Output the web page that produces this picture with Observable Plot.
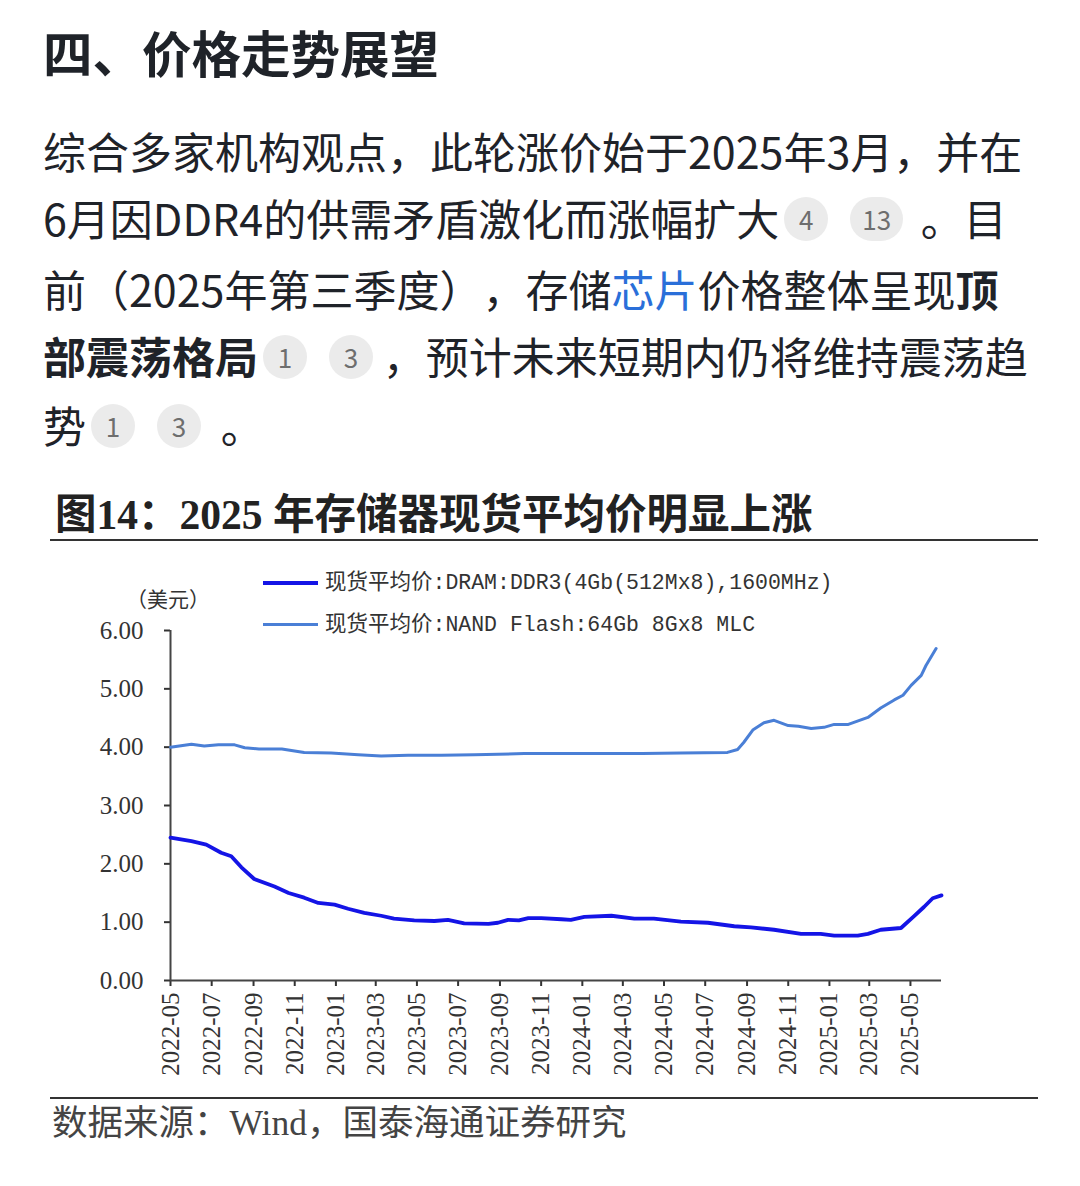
<!DOCTYPE html>
<html><head><meta charset="utf-8">
<script src="https://cdn.jsdelivr.net/npm/d3@7"></script>
<script src="https://cdn.jsdelivr.net/npm/@observablehq/plot@0.6"></script>
<style>
body{margin:0;background:#fff;width:1080px;height:1186px;position:relative;overflow:hidden;font-family:"Noto Sans CJK SC","Noto Sans",sans-serif;color:#1f2329;text-spacing-trim:space-all;}
.abs{position:absolute;white-space:nowrap;}
.h1{left:43px;top:27px;font-size:49.5px;line-height:1;font-weight:700;}
.p{left:43px;font-size:43px;line-height:70px;height:70px;}
.p b{font-weight:700;}
.link{color:#2a6fd9;}
.cite{display:inline-block;height:44px;min-width:44px;padding:0 12px;box-sizing:border-box;border-radius:22px;background:#ebebeb;color:#6e6e6e;font-size:26px;line-height:44px;text-align:center;vertical-align:middle;position:relative;top:-5px;font-weight:400;}
.c1{margin-left:5px;}
.c2{margin-left:22px;}
.ct{left:55px;top:490px;font-family:"Liberation Serif","Noto Sans CJK SC",serif;font-weight:700;font-size:41.5px;line-height:50px;color:#222;}
.rule{position:absolute;left:50px;width:988px;height:2px;background:#333;}
.leg{font-family:"Liberation Mono","Noto Sans CJK SC",monospace;font-size:21.5px;line-height:26px;color:#333;}
.unit{left:126px;top:587px;font-size:21px;line-height:26px;color:#333;font-family:"Liberation Serif","Noto Sans CJK SC",serif;}
.src{left:52px;top:1102px;font-family:"Liberation Serif","Noto Sans CJK SC",serif;font-size:35.5px;line-height:42px;color:#444;}
#chart{position:absolute;left:0;top:560px;}
</style></head><body>
<div class="abs h1">四、价格走势展望</div>
<div class="abs p" style="top:115px">综合多家机构观点，此轮涨价始于2025年3月，并在</div>
<div class="abs p" style="top:182px">6月因DDR4的供需矛盾激化而涨幅扩大<span class="cite c1">4</span><span class="cite c2" style="margin-right:8px">13</span>&nbsp;。目</div>
<div class="abs p" style="top:253px">前（2025年第三季度），存储<span class="link">芯片</span>价格整体呈现<b>顶</b></div>
<div class="abs p" style="top:320px"><b>部震荡格局</b><span class="cite c1">1</span><span class="cite c2">3</span>&nbsp;，预计未来短期内仍将维持震荡趋</div>
<div class="abs p" style="top:389px">势<span class="cite c1">1</span><span class="cite c2" style="margin-right:10px">3</span>&nbsp;。</div>

<div class="abs ct">图14：2025 年存储器现货平均价明显上涨</div>
<div class="rule" style="top:539px"></div>

<div id="chart"></div>

<div class="abs" style="left:263px;top:581px;width:55px;height:4px;background:#1414e6"></div>
<div class="abs leg" id="leg1" style="left:325px;top:570px"></div>
<div class="abs" style="left:263px;top:623px;width:55px;height:3px;background:#4a7fd6"></div>
<div class="abs leg" id="leg2" style="left:325px;top:612px"></div>
<div class="abs unit">（美元）</div>

<div class="rule" style="top:1097px"></div>
<div class="abs src">数据来源：Wind，国泰海通证券研究</div>

<script>
const seriesNames = ["现货平均价:DRAM:DDR3(4Gb(512Mx8),1600MHz)", "现货平均价:NAND Flash:64Gb 8Gx8 MLC"];
const seriesColors = ["#1414e6", "#4a7fd6"];

const dramDates = ["2022-05-01","2022-06-01","2022-06-23","2022-07-15","2022-07-30","2022-08-14","2022-09-02","2022-10-02","2022-10-23","2022-11-15","2022-12-06","2022-12-30","2023-01-19","2023-02-12","2023-03-09","2023-03-28","2023-04-27","2023-05-27","2023-06-16","2023-07-10","2023-08-15","2023-08-29","2023-09-13","2023-09-29","2023-10-13","2023-11-01","2023-12-01","2023-12-15","2024-01-04","2024-02-13","2024-03-18","2024-04-16","2024-05-26","2024-07-05","2024-08-13","2024-09-07","2024-10-11","2024-11-20","2024-12-19","2025-01-08","2025-02-12","2025-02-27","2025-03-18","2025-04-17","2025-05-06","2025-05-21","2025-06-03","2025-06-16"];
const dramValues = [2.45,2.39,2.33,2.19,2.13,1.94,1.74,1.61,1.50,1.42,1.33,1.30,1.23,1.16,1.11,1.06,1.03,1.02,1.04,0.98,0.97,0.99,1.04,1.03,1.07,1.07,1.05,1.04,1.09,1.11,1.06,1.06,1.01,0.99,0.93,0.91,0.87,0.80,0.80,0.77,0.77,0.80,0.87,0.90,1.10,1.26,1.41,1.46];

const nandDates = ["2022-05-01","2022-06-01","2022-06-20","2022-07-11","2022-08-04","2022-08-19","2022-09-09","2022-10-13","2022-11-15","2022-12-25","2023-02-03","2023-03-09","2023-04-18","2023-06-06","2023-07-25","2023-10-07","2024-01-15","2024-03-30","2024-05-26","2024-08-03","2024-08-18","2024-08-27","2024-09-10","2024-09-26","2024-10-11","2024-11-01","2024-11-16","2024-12-05","2024-12-24","2025-01-08","2025-01-29","2025-02-27","2025-03-18","2025-04-07","2025-04-20","2025-05-02","2025-05-17","2025-05-24","2025-06-08"];
const nandValues = [4.00,4.05,4.02,4.04,4.04,3.99,3.97,3.97,3.91,3.90,3.87,3.85,3.86,3.86,3.87,3.89,3.89,3.89,3.90,3.91,3.96,4.08,4.30,4.42,4.46,4.37,4.36,4.32,4.34,4.39,4.39,4.51,4.67,4.81,4.89,5.06,5.23,5.40,5.69];

const yTicks = [0, 1, 2, 3, 4, 5, 6];
const xTickLabels = ["2022-05","2022-07","2022-09","2022-11","2023-01","2023-03","2023-05","2023-07","2023-09","2023-11","2024-01","2024-03","2024-05","2024-07","2024-09","2024-11","2025-01","2025-03","2025-05"];
const xDomain = ["2022-05-01", "2025-06-16"];

document.getElementById("leg1").textContent = seriesNames[0];
document.getElementById("leg2").textContent = seriesNames[1];

const parse = d3.utcParse("%Y-%m-%d");
const dram = dramDates.map((d, i) => ({date: parse(d), value: dramValues[i], series: seriesNames[0]}));
const nand = nandDates.map((d, i) => ({date: parse(d), value: nandValues[i], series: seriesNames[1]}));

const chart = Plot.plot({
  width: 1080,
  height: 530,
  marginLeft: 170,
  marginRight: 139,
  marginTop: 70,
  marginBottom: 110,
  x: {type: "utc", domain: xDomain.map(parse)},
  y: {domain: [0, 6]},
  color: {domain: seriesNames, range: seriesColors},
  style: {fontFamily: "'Liberation Serif', serif", fontSize: "25px", color: "#333", background: "transparent", overflow: "visible"},
  marks: [
    Plot.axisY({ticks: yTicks, tickFormat: d3.format(".2f"), tickSize: 6, tickPadding: 21, strokeWidth: 2, label: null}),
    Plot.axisX({ticks: xTickLabels.map(s => parse(s + "-01")), tickFormat: d3.utcFormat("%Y-%m"), tickRotate: -90, tickSize: 6, tickPadding: 6, strokeWidth: 2, label: null}),
    Plot.ruleY([0], {stroke: "#444", strokeWidth: 2}),
    Plot.ruleX([parse(xDomain[0])], {y1: 0, y2: 6, stroke: "#444", strokeWidth: 2}),
    Plot.line(nand, {x: "date", y: "value", stroke: "series", strokeWidth: 3}),
    Plot.line(dram, {x: "date", y: "value", stroke: "series", strokeWidth: 3.8})
  ]
});
document.getElementById("chart").appendChild(chart);
</script>
</body></html>
